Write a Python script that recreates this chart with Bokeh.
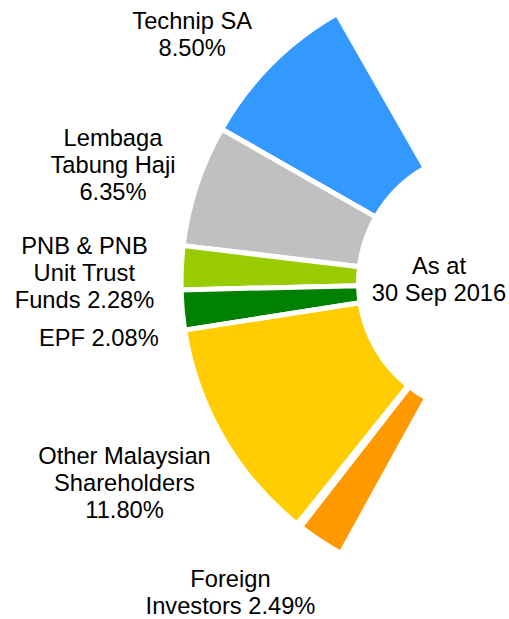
import numpy as np
from bokeh.plotting import figure
from bokeh.models import Range1d, ColumnDataSource
from bokeh.core.properties import value
from bokeh.embed import file_html
from bokeh.resources import INLINE

# ---- data ----
holders = ["Technip SA", "Lembaga Tabung Haji", "PNB & PNB Unit Trust Funds",
           "EPF", "Other Malaysian Shareholders", "Foreign Investors"]
shares = [8.50, 6.35, 2.28, 2.08, 11.80, 2.49]
label_lines = [
    ["Technip SA", "8.50%"],
    ["Lembaga", "Tabung Haji", "6.35%"],
    ["PNB & PNB", "Unit Trust", "Funds 2.28%"],
    ["EPF 2.08%"],
    ["Other Malaysian", "Shareholders", "11.80%"],
    ["Foreign", "Investors 2.49%"],
]
note_lines = ["As at", "30 Sep 2016"]

# ---- style ----
colors = ["#3399FF", "#C0C0C0", "#99CC00", "#008000", "#FFCC00", "#FF9900"]
angle_shift = [0, 0, 0, 0, 0, 0.8]   # degrees, small pull-out of the last slice
W, H = 509, 619
cx, cy = 490, H - 282
r_in, r_out = 132, 309.5
deg_per_pct = 3.6
label_pos = [(191.7, 28.3), (112.5, 145), (84, 253.3), (98.3, 345.5),
             (124, 463), (230, 586.7)]
note_pos = (438.5, 273.3)
text_dy = -8
line_h = 27
font = value("Liberation Sans")
fsize = "23.7px"

p = figure(width=W, height=H, x_range=Range1d(0, W), y_range=Range1d(0, H),
           output_backend="svg", toolbar_location=None, min_border=0)
p.axis.visible = False
p.grid.visible = False
p.outline_line_color = None
p.background_fill_color = "white"
p.border_fill_color = "white"

vals = np.array(shares)
total = vals.sum()
start0 = 180 - total * deg_per_pct / 2
ends = start0 + np.cumsum(vals) * deg_per_pct
starts = ends - vals * deg_per_pct
shift = np.array(angle_shift)
starts = starts + shift
ends = ends + shift

src = ColumnDataSource(dict(x=[cx] * len(vals), y=[cy] * len(vals),
                            start=np.radians(starts), end=np.radians(ends),
                            color=colors, name=holders))
p.annular_wedge(x="x", y="y", inner_radius=r_in, outer_radius=r_out,
                start_angle="start", end_angle="end",
                fill_color="color", line_color="white", line_width=5, source=src)

tx, ty, tt = [], [], []
for (lx, ly), lines in zip(label_pos, label_lines):
    for i, s in enumerate(lines):
        tx.append(lx)
        ty.append(H - (ly + text_dy + i * line_h))
        tt.append(s)
for i, s in enumerate(note_lines):
    tx.append(note_pos[0])
    ty.append(H - (note_pos[1] + text_dy + i * line_h))
    tt.append(s)

p.text(x=tx, y=ty, text=tt, text_font=font, text_font_size=fsize,
       text_align="center", text_baseline="alphabetic", text_color="#000000")

open("out.html", "w").write(file_html(p, INLINE))
